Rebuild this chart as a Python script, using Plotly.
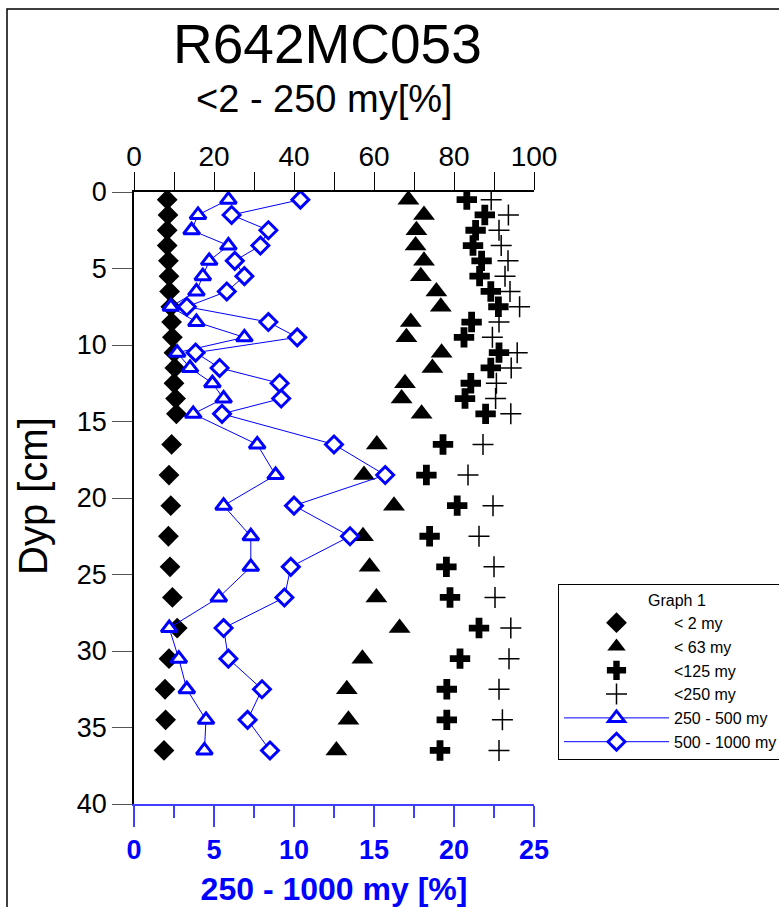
import plotly.graph_objects as go

# Sample depths (cm): 1 cm slices to 15 cm, then every 2 cm
depth = [0.5, 1.5, 2.5, 3.5, 4.5, 5.5, 6.5, 7.5, 8.5, 9.5, 10.5, 11.5, 12.5, 13.5, 14.5,
         16.5, 18.5, 20.5, 22.5, 24.5, 26.5, 28.5, 30.5, 32.5, 34.5, 36.5]

# Cumulative fractions (%) on the top axis
lt2 = [8.3, 8.5, 8.3, 8.3, 8.6, 8.75, 8.9, 9.2, 9.4, 9.6, 10.0, 10.2, 10.0, 10.4, 10.6,
       9.4, 8.75, 9.2, 8.6, 9.0, 9.6, 10.8, 8.75, 7.75, 7.9, 7.5]
lt63 = [68.6, 72.5, 70.6, 70.4, 72.5, 71.7, 75.6, 76.7, 69.2, 68.1, 76.9, 74.6, 67.75, 66.9, 71.9,
        60.7, 57.5, 65.0, 57.25, 58.9, 60.6, 66.4, 57.1, 53.2, 53.6, 50.6]
lt125 = [83.2, 87.7, 85.4, 84.75, 86.9, 86.4, 89.2, 91.1, 84.4, 82.5, 91.25, 89.2, 84.2, 82.75, 87.9,
         77.25, 73.1, 80.8, 73.9, 78.1, 79.0, 86.25, 81.5, 78.2, 78.2, 76.5]
lt250 = [89.3, 93.6, 91.25, 91.8, 93.5, 92.75, 94.0, 96.4, 91.25, 89.6, 95.8, 94.3, 90.6, 90.4, 94.2,
         87.25, 83.5, 89.75, 86.25, 90.0, 90.25, 94.2, 93.75, 91.25, 92.1, 91.25]

# Coarse fractions (%) on the bottom axis
s250_500 = [5.9, 4.0, 3.6, 5.9, 4.7, 4.3, 3.9, 2.3, 3.9, 6.9, 2.7, 3.5, 4.9, 5.6, 3.7,
            7.7, 8.85, 5.6, 7.3, 7.3, 5.3, 2.2, 2.8, 3.3, 4.5, 4.4]
s500_1000 = [10.4, 6.1, 8.4, 7.9, 6.3, 6.9, 5.8, 3.3, 8.4, 10.2, 3.85, 5.35, 9.1, 9.2, 5.5,
             12.5, 15.7, 10.0, 13.5, 9.8, 9.4, 5.6, 5.9, 8.0, 7.1, 8.5]

top_ticks = [0, 20, 40, 60, 80, 100]
bottom_ticks = [0, 5, 10, 15, 20, 25]
depth_ticks = [0, 5, 10, 15, 20, 25, 30, 35, 40]

FONT = "Liberation Sans, Arial, sans-serif"
BLUE = "#0000ff"
AXIS_BLUE = "#3f3fff"
NBSP = "\u00a0"

W, H = 779, 907
L, R, T, B = 134, 534, 192, 804


def px(x):
    return (x - L) / (R - L)


def py(y):
    return (B - y) / (B - T)


fig = go.Figure()

fig.add_trace(go.Scatter(x=lt2, y=depth, mode="markers", name="< 2 my", xaxis="x", yaxis="y",
                         marker=dict(symbol="diamond", size=16, color="black")))
fig.add_trace(go.Scatter(x=lt63, y=depth, mode="markers", name="< 63 my", xaxis="x", yaxis="y",
                         marker=dict(symbol="triangle-up", size=19, color="black")))
fig.add_trace(go.Scatter(x=lt125, y=depth, mode="markers", name="<125 my", xaxis="x", yaxis="y",
                         marker=dict(symbol="cross", size=17, color="black")))
fig.add_trace(go.Scatter(x=lt250, y=depth, mode="markers", name="<250 my", xaxis="x", yaxis="y",
                         marker=dict(symbol="cross-thin-open", size=15, color="black",
                                     line=dict(color="black", width=1.5))))
fig.add_trace(go.Scatter(x=s250_500, y=depth, mode="lines+markers", name="250 - 500 my",
                         xaxis="x2", yaxis="y",
                         line=dict(color=BLUE, width=1),
                         marker=dict(symbol="triangle-up", size=14, color="white",
                                     line=dict(color=BLUE, width=3))))
# the legend box runs past the right edge of the page
fig.add_trace(go.Scatter(x=s500_1000, y=depth, mode="lines+markers",
                         name="500 - 1000 my" + NBSP * 3,
                         xaxis="x2", yaxis="y",
                         line=dict(color=BLUE, width=1),
                         marker=dict(symbol="diamond", size=13, color="white",
                                     line=dict(color=BLUE, width=3))))

fig.update_layout(
    width=W, height=H,
    margin=dict(l=L, r=W - R, t=T, b=H - B, autoexpand=False),
    paper_bgcolor="white", plot_bgcolor="white",
    font=dict(family=FONT, color="black"),
    showlegend=True,
    xaxis=dict(
        side="top", range=[0, 100], tickvals=top_ticks, ticks="outside", ticklen=18,
        tickwidth=1, tickcolor="black", showline=True, linecolor="black", linewidth=1.5,
        showgrid=False, zeroline=False, tickfont=dict(size=28, family=FONT),
        ticklabelstandoff=-5,
        minor=dict(dtick=10, tick0=0, ticks="outside", ticklen=18, tickcolor="black", showgrid=False),
    ),
    xaxis2=dict(
        side="bottom", overlaying="x", range=[0, 25], tickvals=bottom_ticks, ticks="outside",
        ticklen=21, tickwidth=1.5, tickcolor=AXIS_BLUE, showline=True, linecolor=AXIS_BLUE,
        linewidth=1.5, showgrid=False, zeroline=False,
        tickfont=dict(size=27, family=FONT, color=BLUE, weight="bold"),
        minor=dict(dtick=2.5, tick0=0, ticks="outside", ticklen=12, tickcolor=AXIS_BLUE,
                   showgrid=False),
        title=dict(text="<b>250 - 1000 my [%]</b>", font=dict(size=32, color=BLUE, family=FONT),
                   standoff=17),
    ),
    yaxis=dict(
        range=[40, 0], tickvals=depth_ticks, ticks="outside", ticklen=20, tickwidth=1,
        tickcolor="#555555", showline=True, linecolor="black", linewidth=1.5, showgrid=False,
        zeroline=False, tickfont=dict(size=27, family=FONT),
    ),
    legend=dict(
        x=px(558), y=py(584), xanchor="left", yanchor="top",
        bordercolor="black", borderwidth=1, bgcolor="white",
        font=dict(size=16, family=FONT),
        itemwidth=105, tracegroupgap=0,
        title=dict(text="Graph 1", side="top center", font=dict(size=16, family=FONT)),
    ),
    annotations=[
        dict(text="R642MC053", x=px(327), y=py(44), xref="paper", yref="paper",
             showarrow=False, font=dict(size=55, family=FONT), xanchor="center", yanchor="middle"),
        dict(text="<2 - 250 my[%]", x=px(324), y=py(99), xref="paper", yref="paper",
             showarrow=False, font=dict(size=38, family=FONT), xanchor="center", yanchor="middle"),
        dict(text="Dyp [cm]", x=px(33), y=py(496), xref="paper", yref="paper", textangle=-90,
             showarrow=False, font=dict(size=40, family=FONT), xanchor="center", yanchor="middle"),
    ],
    shapes=[
        dict(type="rect", xref="paper", yref="paper", x0=px(7), x1=px(800), y0=py(9), y1=py(930),
             line=dict(color="black", width=1.5), layer="below"),
    ],
)

fig.write_html("out.html")
